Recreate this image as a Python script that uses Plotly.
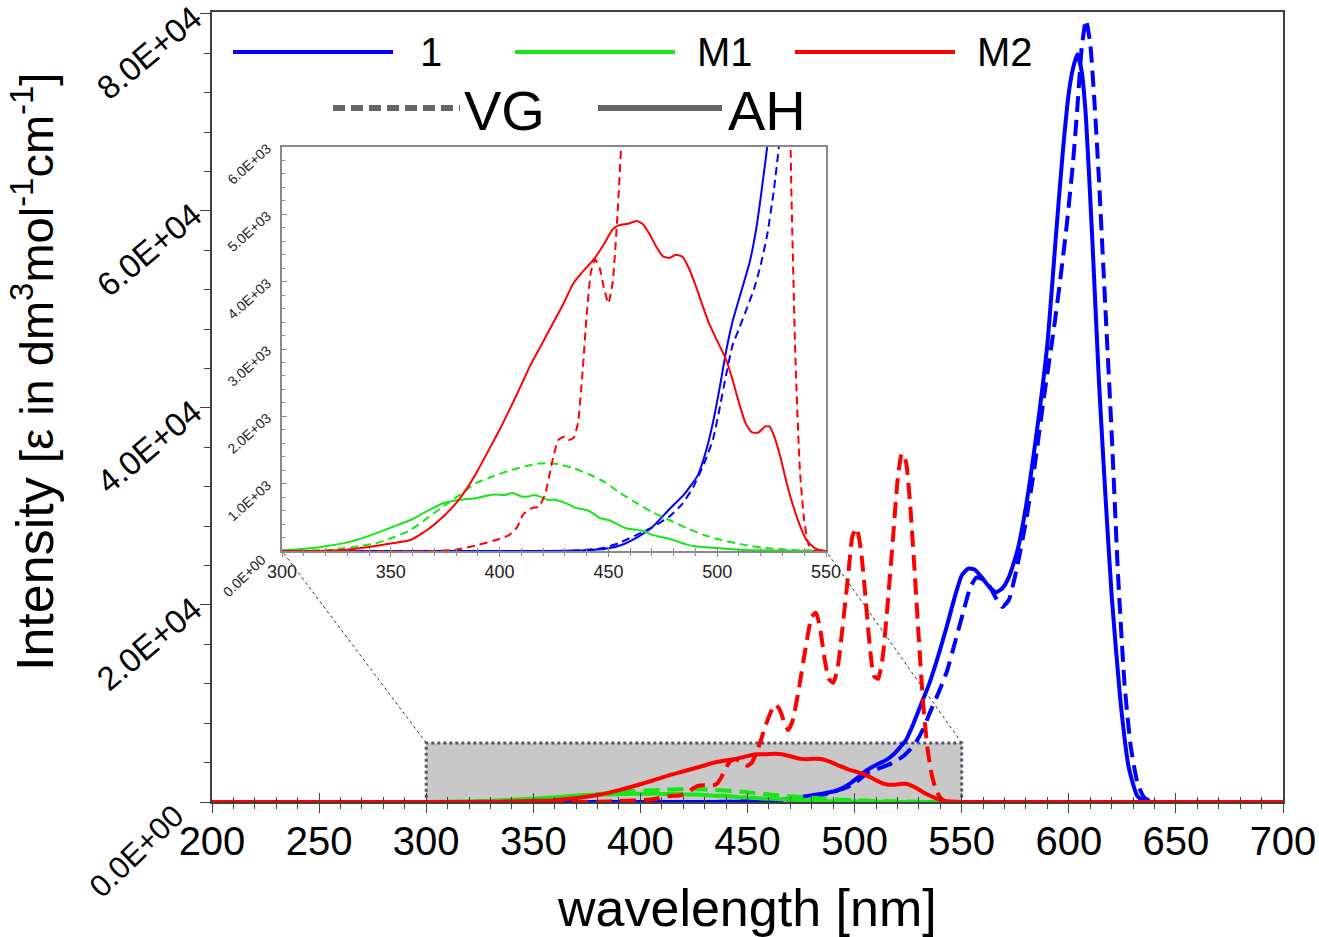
import plotly.graph_objects as go

# ---------------- data ----------------
# compound 1, AH (solid blue)
x_1_ah = [200, 420, 440, 450, 456, 463, 470, 478, 485, 491, 495, 498, 501, 504, 507, 511, 515, 518,
          521, 524, 527, 531, 535, 539, 543, 547, 550, 553, 556, 559, 563, 566, 569, 572, 576, 580,
          585, 590, 594, 597, 600, 602, 604, 606, 608, 611, 614, 617, 620, 624, 628, 632, 636, 700]
y_1_ah = [0, 0, 10, 40, 90, 200, 350, 620, 850, 1120, 1500, 1900, 2400, 2950, 3400, 3850, 4300, 4800,
          5500, 6300, 7700, 9900, 12100, 14800, 17800, 21000, 23000, 23700, 23600, 22900, 21800, 21300,
          21700, 22800, 25500, 30000, 37500, 46500, 57500, 65500, 72000, 74500, 75900, 74200, 69500,
          57000, 43000, 31500, 21000, 10500, 3500, 600, 0, 0]

# compound 1, VG (dashed blue)
x_1_vg = [200, 430, 447, 455, 463, 470, 478, 484, 489, 494, 498, 501, 504, 507, 510, 513, 517, 520,
          523, 526, 529, 532, 535, 539, 543, 547, 551, 554, 557, 560, 563, 566, 569, 572, 576, 580,
          584, 588, 593, 596, 599, 602, 604, 606, 608, 610, 612, 614, 617, 620, 623, 626, 629, 632,
          635, 639, 700]
y_1_vg = [0, 0, 40, 120, 240, 350, 510, 700, 950, 1300, 1650, 2100, 2600, 3050, 3300, 3550, 3900, 4250,
          4700, 5350, 6200, 7400, 9000, 11000, 13200, 16300, 19500, 21800, 22800, 22600, 21900, 20700,
          19800, 20500, 24000, 28500, 34000, 40500, 48000, 53000, 58500, 65000, 70500, 76500, 79400,
          77000, 71000, 63500, 50500, 37500, 23000, 12000, 5500, 2000, 500, 0, 0]

# M1, AH (solid green)
x_m1_ah = [200, 295, 305, 313, 320, 328, 335, 343, 351, 359, 366, 374, 382, 389, 394, 398, 402, 406,
           410, 413, 416, 419, 422, 425, 428, 432, 435, 440, 443, 446, 450, 454, 458, 462, 466, 470,
           474, 477, 481, 486, 490, 495, 501, 510, 520, 535, 550, 700]
y_m1_ah = [0, 5, 20, 40, 70, 113, 170, 262, 360, 460, 580, 710, 760, 785, 820, 840, 830, 860,
           810, 810, 830, 800, 760, 760, 740, 690, 640, 610, 560, 490, 460, 400, 337, 320, 300, 240,
           210, 188, 150, 95, 70, 55, 40, 20, 10, 3, 0, 0]

# M1, VG (dashed green)
x_m1_vg = [200, 310, 320, 328, 336, 343, 351, 359, 366, 374, 382, 389, 397, 405, 412, 418, 422, 427,
           434, 441, 448, 455, 463, 470, 478, 486, 494, 501, 509, 516, 524, 535, 545, 550, 700]
y_m1_vg = [0, 0, 15, 40, 75, 113, 200, 310, 470, 660, 840, 1007, 1110, 1200, 1260, 1300, 1305, 1290,
           1230, 1140, 1030, 870, 710, 580, 460, 340, 238, 170, 113, 70, 40, 15, 5, 0, 0]

# M2, AH (solid red)
x_m2_ah = [200, 315, 328, 340, 350, 359, 367, 374, 380, 385, 390, 395, 400, 405, 409, 414, 419, 424,
           429, 434, 439, 443, 448, 452, 455, 459, 463, 466, 469, 472, 475, 478, 481, 484, 487, 490,
           493, 496, 500, 504, 507, 510, 513, 516, 519, 522, 524, 526, 529, 532, 535, 538, 541, 545,
           550, 700]
y_m2_ah = [0, 0, 15, 60, 110, 163, 320, 510, 710, 930, 1200, 1500, 1800, 2130, 2400, 2750, 3050, 3350,
           3650, 3980, 4180, 4320, 4560, 4780, 4840, 4860, 4900, 4850, 4700, 4520, 4380, 4350, 4400,
           4370, 4200, 3950, 3670, 3400, 3120, 2850, 2550, 2200, 1900, 1760, 1760, 1850, 1850, 1720,
           1400, 1000, 660, 380, 163, 40, 0, 0]

# M2, VG (dashed red)
x_m2_vg = [200, 370, 380, 390, 398, 404, 408, 411, 415, 418, 421, 424, 427, 430, 432, 434, 436, 438,
           440, 442, 444, 446, 448, 450, 452, 454, 456, 458, 461, 463, 465, 467, 469, 471, 474, 477,
           480, 482, 484, 486, 488, 490, 492, 494, 497, 499, 501, 503, 505, 507, 509, 511, 513, 515,
           518, 520, 522, 524, 526, 528, 530, 532, 534, 536, 538, 540, 542, 545, 700]
y_m2_vg = [0, 0, 20, 90, 160, 230, 350, 550, 640, 660, 850, 1300, 1650, 1700, 1650, 1680, 1900, 2600,
           3500, 4150, 4330, 4200, 3900, 3680, 4000, 4900, 6100, 7500, 9200, 9900, 9400, 8200, 7300,
           8200, 11500, 15500, 18800, 19200, 17500, 14500, 12500, 12100, 13500, 17000, 23000, 27000,
           27800, 25500, 21000, 16000, 12800, 12500, 14500, 19000, 27000, 32500, 35400, 34500, 30000,
           23500, 16500, 10000, 5500, 2800, 1200, 450, 100, 0, 0]

main_yticks = [0, 20000, 40000, 60000, 80000]
main_yticktext = ["", "2.0E+04", "4.0E+04", "6.0E+04", "8.0E+04"]
main_zero_label = "0.0E+00"
inset_yticks = [0, 1000, 2000, 3000, 4000, 5000, 6000]
inset_yticktext = ["", "1.0E+03", "2.0E+03", "3.0E+03", "4.0E+03", "5.0E+03", "6.0E+03"]
inset_zero_label = "0.0E+00"
zoom_window = [300, 550, 0, 6000]   # x0, x1, y0, y1 of the magnified region

series = [
    ("1", "AH", x_1_ah, y_1_ah, "#0000FF"),
    ("1", "VG", x_1_vg, y_1_vg, "#0000FF"),
    ("M1", "AH", x_m1_ah, y_m1_ah, "#19E619"),
    ("M1", "VG", x_m1_vg, y_m1_vg, "#19E619"),
    ("M2", "AH", x_m2_ah, y_m2_ah, "#FF0000"),
    ("M2", "VG", x_m2_vg, y_m2_vg, "#FF0000"),
]

# ---------------- layout geometry ----------------
W, H = 1319, 937
FONT = "Liberation Sans, Arial, sans-serif"
main_xd = [212 / W, 1283 / W]
main_yd = [(H - 802) / H, (H - 12) / H]
ins_xd = [282 / W, 826 / W]
ins_yd = [(H - 551) / H, (H - 147) / H]
XR = [200, 700]
YR = [0, 80200]
IXR = [300, 550]
IYR = [0, 6000]

fig = go.Figure()

for name, meth, xs, ys, col in series:
    dash = "16px,8px" if meth == "VG" else "solid"
    fig.add_trace(go.Scatter(x=xs, y=ys, mode="lines", name=f"{name} {meth}",
                             line=dict(color=col, width=4, dash=dash, shape="spline", smoothing=0.5),
                             xaxis="x", yaxis="y", showlegend=False, hoverinfo="skip"))
for name, meth, xs, ys, col in series:
    dash = "8px,5px" if meth == "VG" else "solid"
    fig.add_trace(go.Scatter(x=xs, y=ys, mode="lines", name=f"{name} {meth} (inset)",
                             line=dict(color=col, width=2, dash=dash, shape="spline", smoothing=0.5),
                             xaxis="x2", yaxis="y2", showlegend=False, hoverinfo="skip"))
# empty traces so the overlay tick axes exist
fig.add_trace(go.Scatter(x=[], y=[], xaxis="x3", yaxis="y", showlegend=False, hoverinfo="skip"))
fig.add_trace(go.Scatter(x=[], y=[], xaxis="x4", yaxis="y2", showlegend=False, hoverinfo="skip"))

axcol = "#404040"
inscol = "#8a8a8a"
tickfont_main = dict(family=FONT, size=40, color="black")

fig.update_layout(
    width=W, height=H, margin=dict(l=0, r=0, t=0, b=0, autoexpand=False),
    paper_bgcolor="white", plot_bgcolor="white", showlegend=False,
    xaxis=dict(domain=main_xd, range=XR, anchor="y", showgrid=False, zeroline=False, automargin=False,
               showline=True, linecolor=axcol, linewidth=2, mirror=True, ticklabeloverflow="allow",
               tickmode="linear", tick0=200, dtick=50, ticks="outside", ticklen=9,
               ticklabelstandoff=-6,
               tickcolor=axcol, tickwidth=1, tickfont=tickfont_main,
               minor=dict(dtick=10, tick0=200, ticks="outside", ticklen=5, tickcolor=axcol)),
    xaxis3=dict(domain=main_xd, range=XR, anchor="y", overlaying="x", showgrid=False, automargin=False,
                zeroline=False, showline=False, showticklabels=False,
                tickmode="linear", tick0=200, dtick=50, ticks="inside", ticklen=9,
                tickcolor=axcol, minor=dict(dtick=10, tick0=200, ticks="inside", ticklen=5,
                                            tickcolor=axcol)),
    yaxis=dict(domain=main_yd, range=YR, anchor="x", showgrid=False, zeroline=False, automargin=False,
               showline=True, linecolor=axcol, linewidth=2, mirror=True, ticklabeloverflow="allow",
               tickmode="array", tickvals=main_yticks, ticktext=main_yticktext,
               tickangle=-40, ticks="outside", ticklen=10, tickcolor=axcol,
               tickfont=dict(family=FONT, size=33, color="black"),
               minor=dict(dtick=4000, tick0=0, ticks="outside", ticklen=6, tickcolor=axcol)),
    xaxis2=dict(domain=ins_xd, range=IXR, anchor="y2", showgrid=False, zeroline=False, automargin=False,
                showline=True, linecolor=inscol, linewidth=1.5, mirror=True, ticklabeloverflow="allow",
                tickmode="linear", tick0=300, dtick=50, ticks="outside", ticklen=4,
                tickcolor=inscol, tickfont=dict(family=FONT, size=18, color="#222"),
                minor=dict(dtick=10, tick0=300, ticks="outside", ticklen=3, tickcolor=inscol)),
    xaxis4=dict(domain=ins_xd, range=IXR, anchor="y2", overlaying="x2", showgrid=False, automargin=False,
                zeroline=False, showline=False, showticklabels=False,
                tickmode="linear", tick0=300, dtick=50, ticks="inside", ticklen=4,
                tickcolor=inscol, minor=dict(dtick=10, tick0=300, ticks="inside", ticklen=3,
                                             tickcolor=inscol)),
    yaxis2=dict(domain=ins_yd, range=IYR, anchor="x2", showgrid=False, zeroline=False, automargin=False,
                showline=True, linecolor=inscol, linewidth=1.5, mirror=True, ticklabeloverflow="allow",
                tickmode="array", tickvals=inset_yticks, ticktext=inset_yticktext,
                tickangle=-42, ticks="inside", ticklen=5, tickcolor=inscol, ticklabelstandoff=10,
                tickfont=dict(family=FONT, size=14, color="#222"),
                minor=dict(dtick=200, tick0=0, ticks="inside", ticklen=3, tickcolor=inscol)),
)

# zero labels of both y axes (drawn lower-left of the corner, as in the original figure)
fig.add_annotation(xref="paper", yref="paper", x=136 / W, y=1 - 851 / H, text=main_zero_label,
                   textangle=-44, showarrow=False, xanchor="center", yanchor="middle",
                   font=dict(family=FONT, size=31, color="black"))
fig.add_annotation(xref="paper", yref="paper", x=244 / W, y=1 - 576 / H, text=inset_zero_label,
                   textangle=-44, showarrow=False, xanchor="center", yanchor="middle",
                   font=dict(family=FONT, size=14, color="#222"))

# ---------- magnified-region box and connectors ----------
def main_to_paper(xv, yv):
    px = main_xd[0] + (xv - XR[0]) / (XR[1] - XR[0]) * (main_xd[1] - main_xd[0])
    py = main_yd[0] + (yv - YR[0]) / (YR[1] - YR[0]) * (main_yd[1] - main_yd[0])
    return px, py

zx0, zx1, zy0, zy1 = zoom_window
fig.add_shape(type="rect", xref="x", yref="y", x0=zx0, x1=zx1, y0=zy0, y1=zy1,
              fillcolor="#C8C8C8", line=dict(color="#55556a", width=3, dash="dot"), layer="below")
p_l = main_to_paper(zx0, zy1)
p_r = main_to_paper(zx1, zy1)
fig.add_shape(type="line", xref="paper", yref="paper", x0=p_l[0], y0=p_l[1],
              x1=ins_xd[0], y1=ins_yd[0], line=dict(color="#333", width=1, dash="dot"))
fig.add_shape(type="line", xref="paper", yref="paper", x0=p_r[0], y0=p_r[1],
              x1=ins_xd[1], y1=ins_yd[0], line=dict(color="#333", width=1, dash="dot"))

# ---------- custom legend ----------
def P(x, y):
    return x / W, 1 - y / H

legend_rows = [
    ("1", "#0000FF", 233, 393, 52, 418),
    ("M1", "#19E619", 515, 675, 52, 695),
    ("M2", "#FF0000", 795, 955, 52, 975),
]
for lab, col, xa, xb, yy, xt in legend_rows:
    a = P(xa, yy); b = P(xb, yy)
    fig.add_shape(type="line", xref="paper", yref="paper", x0=a[0], y0=a[1], x1=b[0], y1=b[1],
                  line=dict(color=col, width=4))
    t = P(xt, yy)
    fig.add_annotation(xref="paper", yref="paper", x=t[0], y=t[1], text=lab, showarrow=False,
                       xanchor="left", yanchor="middle", font=dict(family=FONT, size=40, color="black"))

for lab, dash, xa, xb, yy, xt in [("VG", "12px,6px", 333, 460, 108, 462),
                                  ("AH", "solid", 598, 722, 108, 726)]:
    a = P(xa, yy); b = P(xb, yy)
    fig.add_shape(type="line", xref="paper", yref="paper", x0=a[0], y0=a[1], x1=b[0], y1=b[1],
                  line=dict(color="#666666", width=6, dash=dash))
    t = P(xt, yy + 2)
    fig.add_annotation(xref="paper", yref="paper", x=t[0], y=t[1], text=lab, showarrow=False,
                       xanchor="left", yanchor="middle", font=dict(family=FONT, size=56, color="black"))

# ---------- axis titles ----------
fig.add_annotation(xref="paper", yref="paper", x=747 / W, y=1 - 908 / H,
                   text="wavelength [nm]", showarrow=False, xanchor="center", yanchor="middle",
                   font=dict(family=FONT, size=52, color="black"))
fig.add_annotation(xref="paper", yref="paper", x=33 / W, y=1 - 372 / H, textangle=-90,
                   text="Intensity <span style='font-size:47px'>[ε in dm<sup>3</sup>mol<sup>-1</sup>cm<sup>-1</sup>]</span>",
                   showarrow=False, xanchor="center", yanchor="middle",
                   font=dict(family=FONT, size=52, color="black"))

fig.write_html("out.html", config={"displayModeBar": False},
               post_script="document.body.style.margin='0';document.body.style.padding='0';"
                           "document.body.style.overflow='hidden';")
